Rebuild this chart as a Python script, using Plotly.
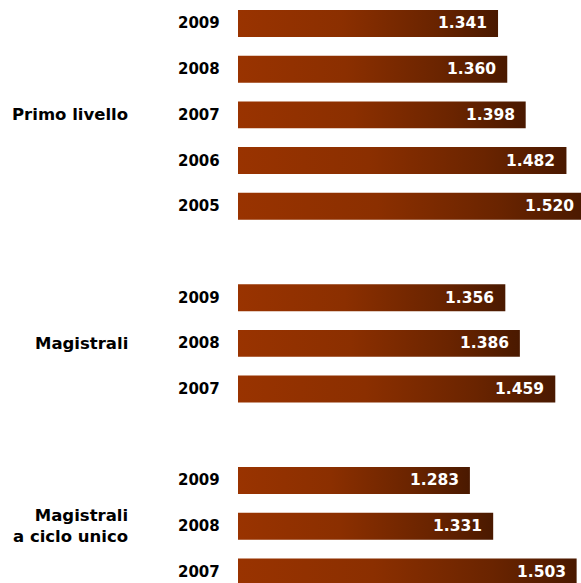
import plotly.graph_objects as go

# ---- data ----
groups = ["Primo livello", "Magistrali", "Magistrali<br>a ciclo unico"]
years_primo = ["2009", "2008", "2007", "2006", "2005"]
values_primo = [1341, 1360, 1398, 1482, 1520]
years_mag = ["2009", "2008", "2007"]
values_mag = [1356, 1386, 1459]
years_mcu = ["2009", "2008", "2007"]
values_mcu = [1283, 1331, 1503]

X_MIN, X_MAX = 805, 1512
BAR_HALF = 0.295
LABEL_PAD = 18.5  # gap (in axis units) between bar end and its value label
FONT = "DejaVu Sans"
colorscale = [[0, "#993300"], [0.4, "#8b2f00"], [0.75, "#6a2400"], [1, "#4a1900"]]

def fmt(v):
    return f"{v:,}".replace(",", ".")

fig = go.Figure()
annotations = []

slot = 0
for gname, yrs, vals in [(groups[0], years_primo, values_primo),
                         (groups[1], years_mag, values_mag),
                         (groups[2], years_mcu, values_mcu)]:
    first = slot
    for yr, v in zip(yrs, vals):
        fig.add_trace(go.Scatter(
            x=[0, v, v, 0, 0],
            y=[slot - BAR_HALF, slot - BAR_HALF, slot + BAR_HALF, slot + BAR_HALF, slot - BAR_HALF],
            mode="lines", line=dict(width=0), fill="toself",
            fillgradient=dict(type="horizontal", colorscale=colorscale, start=X_MIN, stop=v),
            hoverinfo="skip", showlegend=False,
        ))
        annotations.append(dict(x=v, y=slot, xref="x", yref="y",
                                ax=v - LABEL_PAD, ay=slot, axref="x", ayref="y",
                                showarrow=True, arrowcolor="rgba(0,0,0,0)", arrowwidth=0.1,
                                arrowhead=0, text=fmt(v),
                                xanchor="right", yanchor="middle",
                                font=dict(family=FONT, size=15.5, color="white", weight="bold")))
        annotations.append(dict(x=0, y=slot, xref="paper", yref="y", text=yr,
                                xanchor="right", yanchor="middle", xshift=-16, showarrow=False,
                                font=dict(family=FONT, size=15, color="black", weight="bold")))
        slot += 1
    mid = (first + slot - 1) / 2
    annotations.append(dict(x=0, y=mid, xref="paper", yref="y", text=gname,
                            xanchor="right", yanchor="middle", xshift=-108, showarrow=False,
                            align="right",
                            font=dict(family=FONT, size=16.5, color="black", weight="bold")))
    slot += 1

fig.update_layout(
    width=581, height=583,
    margin=dict(l=238, r=0, t=0, b=0),
    paper_bgcolor="white", plot_bgcolor="white",
    xaxis=dict(range=[X_MIN, X_MAX], visible=False, fixedrange=True),
    yaxis=dict(range=[12.243, -0.514], visible=False, fixedrange=True),
    annotations=annotations,
    showlegend=False,
)

fig.write_html(
    "out.html",
    config={"displayModeBar": False, "staticPlot": True},
    post_script="document.documentElement.style.overflow='hidden';"
                "document.body.style.margin='0px';document.body.style.overflow='hidden';",
)
